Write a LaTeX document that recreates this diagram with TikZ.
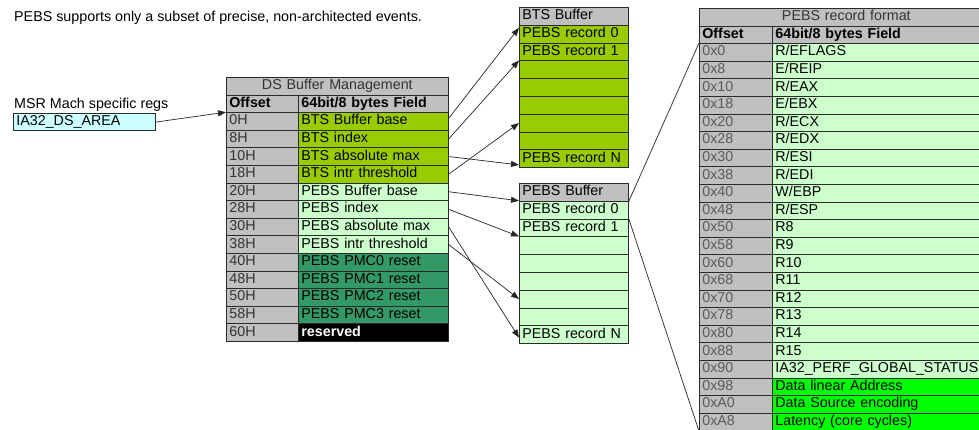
\documentclass[tikz,border=0pt]{standalone}
\usepackage{fontspec}
\setmainfont{Liberation Sans}
\usetikzlibrary{arrows.meta}
\definecolor{hdrgray}{HTML}{C0C0C0}
\definecolor{btsgreen}{HTML}{99CC00}
\definecolor{pebsgreen}{HTML}{CCFFCC}
\definecolor{pmcgreen}{HTML}{339966}
\definecolor{brightgreen}{HTML}{00FF00}
\definecolor{regcyan}{HTML}{CCFFFF}
\definecolor{txtgray}{HTML}{333333}
\definecolor{offgray}{HTML}{5A5A5A}
\definecolor{rulegray}{HTML}{2A2A2A}
\newcommand{\cellfont}{\fontsize{14.3}{15}\selectfont}
\tikzset{
  cell/.style={draw=rulegray, line width=0.7pt, anchor=north west, inner xsep=3pt, inner ysep=0pt,
    text height=10pt, text depth=3pt, align=left, font=\cellfont},
  dsrow/.style={cell, minimum height=17.6pt},
  bufrow/.style={cell, minimum height=17.8pt, text width=103pt},
  hdr/.style={fill=hdrgray, font=\cellfont\bfseries},
  plain/.style={text=black},
  rev/.style={text=white, font=\cellfont\bfseries},
  conn/.style={-{Triangle[length=8pt,width=6pt]}, line width=0.7pt, black!85},
  link/.style={line width=0.7pt, black!85},
  lbl/.style={inner sep=0pt, anchor=base west, font=\cellfont}
}
\begin{document}
\begin{tikzpicture}[x=1pt,y=-1pt]
\useasboundingbox (0,0) rectangle (979,430);
\fill[white] (0,0) rectangle (979,430);
\clip (0,0) rectangle (979,430);

% top note
\node[lbl] (note) at (14,21.5) {PEBS supports only a subset of precise, non-architected events.};

% MSR register
\node[lbl] (msr) at (14,109) {MSR Mach specific regs};
\node[cell, fill=regcyan, minimum height=17.5pt, text width=136pt] (dsarea) at (13,113) {IA32\_DS\_AREA};

% DS Buffer Management table
\node[dsrow, fill=hdrgray, text width=216pt, align=center, text=txtgray] (dst) at (226,77) {DS Buffer Management};
\node[dsrow, hdr, text width=66pt] (dsho) at (226,94.6) {Offset};
\node[dsrow, hdr, text width=144pt] (dshf) at (298,94.6) {64bit/8 bytes Field};
\foreach \i/\o/\f/\c/\s in {
  0/0H/BTS Buffer base/btsgreen/plain,
  1/8H/BTS index/btsgreen/plain,
  2/10H/BTS absolute max/btsgreen/plain,
  3/18H/BTS intr threshold/btsgreen/plain,
  4/20H/PEBS Buffer base/pebsgreen/plain,
  5/28H/PEBS index/pebsgreen/plain,
  6/30H/PEBS absolute max/pebsgreen/plain,
  7/38H/PEBS intr threshold/pebsgreen/plain,
  8/40H/PEBS PMC0 reset/pmcgreen/plain,
  9/48H/PEBS PMC1 reset/pmcgreen/plain,
  10/50H/PEBS PMC2 reset/pmcgreen/plain,
  11/58H/PEBS PMC3 reset/pmcgreen/plain,
  12/60H/reserved/black/rev}{
  \node[dsrow, fill=hdrgray, text width=66pt, text=txtgray] (dso\i) at (226,{112.2+17.6*\i}) {\o};
  \node[dsrow, fill=\c, text width=144pt, \s] (dsf\i) at (298,{112.2+17.6*\i}) {\f};
}

% BTS Buffer
\node[bufrow, fill=hdrgray] (bts0) at (519,7) {BTS Buffer};
\foreach \j/\t in {1/PEBS record 0, 2/PEBS record 1, 3/{}, 4/{}, 5/{}, 6/{}, 7/{}, 8/PEBS record N}{
  \node[bufrow, fill=btsgreen] (bts\j) at (519,{7+17.8*\j}) {\t};
}

% PEBS Buffer
\node[bufrow, fill=hdrgray] (pebs0) at (519,183) {PEBS Buffer};
\foreach \j/\t in {1/PEBS record 0, 2/PEBS record 1, 3/{}, 4/{}, 5/{}, 6/{}, 7/{}, 8/PEBS record N}{
  \node[bufrow, fill=pebsgreen] (pebs\j) at (519,{183+17.8*\j}) {\t};
}

% PEBS record format
\node[dsrow, fill=hdrgray, text width=288pt, align=center, text=txtgray] (rft) at (699,8) {PEBS record format};
\node[dsrow, hdr, text width=67pt] (rfho) at (699,25.6) {Offset};
\node[dsrow, hdr, text width=215pt] (rfhf) at (772,25.6) {64bit/8 bytes Field};
\foreach \k/\o/\f in {
  0/0x0/{R/EFLAGS}, 1/0x8/{E/REIP}, 2/0x10/{R/EAX}, 3/0x18/{E/EBX}, 4/0x20/{R/ECX},
  5/0x28/{R/EDX}, 6/0x30/{R/ESI}, 7/0x38/{R/EDI}, 8/0x40/{W/EBP}, 9/0x48/{R/ESP},
  10/0x50/R8, 11/0x58/R9, 12/0x60/R10, 13/0x68/R11, 14/0x70/R12, 15/0x78/R13,
  16/0x80/R14, 17/0x88/R15, 18/0x90/IA32\_PERF\_GLOBAL\_STATUS}{
  \node[dsrow, fill=hdrgray, text width=67pt, text=offgray] (rfo\k) at (699,{43.2+17.6*\k}) {\o};
  \node[dsrow, fill=pebsgreen, text width=215pt] (rff\k) at (772,{43.2+17.6*\k}) {\f};
}
\foreach \k/\o/\f in {19/0x98/Data linear Address, 20/0xA0/Data Source encoding, 21/0xA8/Latency (core cycles)}{
  \node[dsrow, fill=hdrgray, text width=67pt, text=offgray] (rfo\k) at (699,{43.2+17.6*\k}) {\o};
  \node[dsrow, fill=brightgreen, text width=215pt] (rff\k) at (772,{43.2+17.6*\k}) {\f};
}

% connectors
\draw[conn] (dsarea.east) -- (dso0.north west);
\draw[conn] ([yshift=3pt]dsf0.east) -- ([yshift=-3pt]bts1.north west);
\draw[conn] (dsf1.east) -- (bts3.north west);
\draw[conn] (dsf2.east) -- ([yshift=3pt]bts8.south west);
\draw[conn] (dsf3.east) -- (bts6.west);
\draw[conn] (dsf4.east) -- (pebs1.north west);
\draw[conn] (dsf5.east) -- (pebs3.north west);
\draw[conn] (dsf6.east) -- ([yshift=-3pt]pebs8.west);
\draw[conn] (dsf7.east) -- (pebs6.west);
\draw[link] (pebs0.south east) -- (rfo0.north west);
\draw[link] (pebs2.north east) -- (rfo21.south west);
\end{tikzpicture}
\end{document}
